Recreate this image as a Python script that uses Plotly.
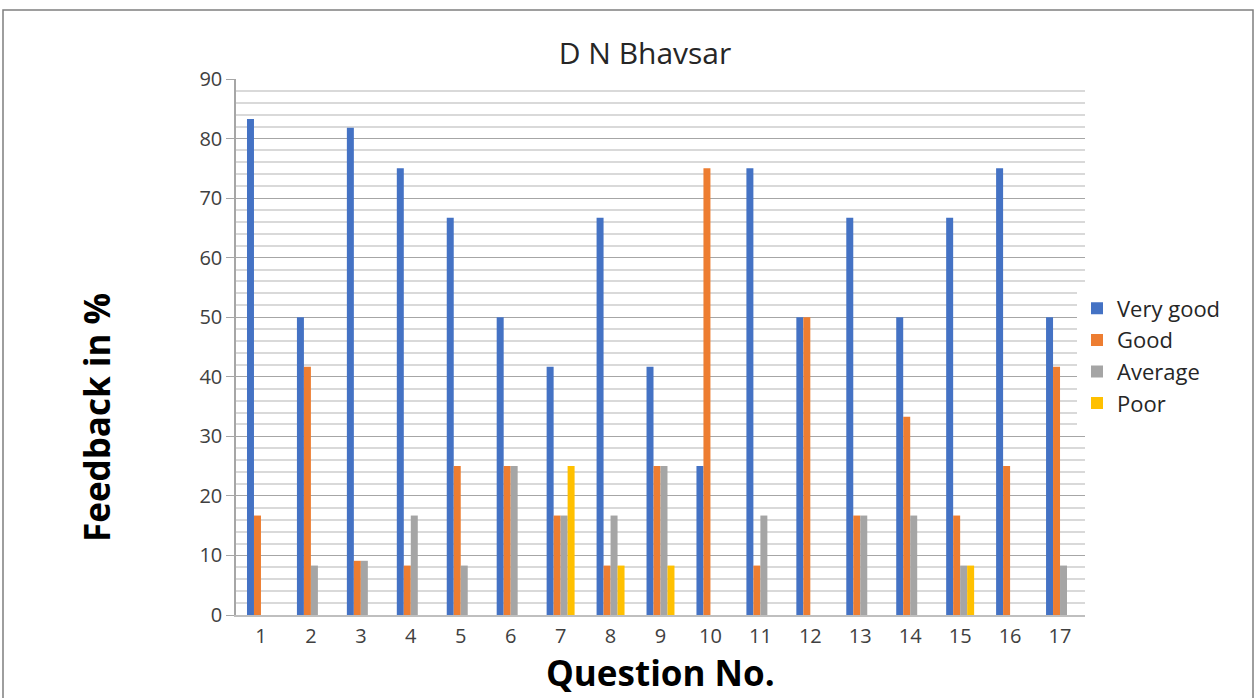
import plotly.graph_objects as go

questions = [str(i) for i in range(1, 18)]
very_good = [83.3, 50, 81.8, 75, 66.7, 50, 41.7, 66.7, 41.7, 25, 75, 50, 66.7, 50, 66.7, 75, 50]
good = [16.7, 41.7, 9.1, 8.3, 25, 25, 16.7, 8.3, 25, 75, 8.3, 50, 16.7, 33.3, 16.7, 25, 41.7]
average = [0, 8.3, 9.1, 16.7, 8.3, 25, 16.7, 16.7, 25, 0, 16.7, 0, 16.7, 16.7, 8.3, 0, 8.3]
poor = [0, 0, 0, 0, 0, 0, 25, 8.3, 8.3, 0, 0, 0, 0, 0, 8.3, 0, 0]

series = [
    ("Very good", very_good, "#4472C4"),
    ("Good", good, "#ED7D31"),
    ("Average", average, "#A5A5A5"),
    ("Poor", poor, "#FFC000"),
]

fig = go.Figure()
for name, vals, col in series:
    fig.add_trace(go.Bar(x=questions, y=vals, name=name, marker_color=col,
                         marker_line_width=0))

font = "Open Sans, Noto Sans, sans-serif"
W, H = 1257, 698
L, R, T, B = 236, 1085, 79, 615
fig.update_layout(
    width=W, height=H,
    barmode="group", bargap=0.44, bargroupgap=0,
    plot_bgcolor="white", paper_bgcolor="white",
    margin=dict(l=L, r=W - R, t=T, b=H - B),
    font=dict(family=font, size=20, color="#404040"),
    title=dict(text="D N Bhavsar", x=645 / W, xanchor="center",
               y=1 - 53 / H, yanchor="middle",
               font=dict(size=30, color="#262626", family=font)),
    legend=dict(x=(1077 - L) / (R - L), y=(B - 356) / (B - T), xanchor="left", yanchor="middle",
                font=dict(size=22, color="#262626"), itemwidth=30),
    xaxis=dict(showline=True, linecolor="#BFBFBF", linewidth=1.5,
               ticks="outside", ticklen=2, tickcolor="rgba(0,0,0,0)",
               tickfont=dict(size=20, color="#404040")),
    yaxis=dict(range=[0, 90], dtick=10, showline=True, linecolor="#A6A6A6", linewidth=1.5,
               ticks="outside", ticklen=8, tickcolor="#A6A6A6",
               gridcolor="#A6A6A6", gridwidth=1,
               minor=dict(dtick=2, showgrid=True, gridcolor="#D9D9D9", gridwidth=1.5),
               tickfont=dict(size=20, color="#404040"),
               zeroline=False),
)

fig.add_annotation(text="<b>Question No.</b>", xref="paper", yref="paper",
                   x=(660 - L) / (R - L), y=(B - H) / (B - T),
                   xanchor="center", yanchor="bottom", showarrow=False,
                   font=dict(size=35, color="black", family=font))
fig.add_annotation(text="<b>Feedback in %</b>", xref="paper", yref="paper",
                   x=(96 - L) / (R - L), y=(B - 418) / (B - T), textangle=-90,
                   xanchor="center", yanchor="middle", showarrow=False,
                   font=dict(size=35, color="black", family=font))

fig.add_shape(type="rect", xref="paper", yref="paper",
              x0=(3 - L) / (R - L), x1=(1253 - L) / (R - L),
              y0=(B - 720) / (B - T), y1=(B - 10) / (B - T),
              line=dict(color="#7F7F7F", width=1.5), layer="below")

fig.write_html("out.html", config={"displayModeBar": False},
               post_script="document.body.style.margin='0';")
